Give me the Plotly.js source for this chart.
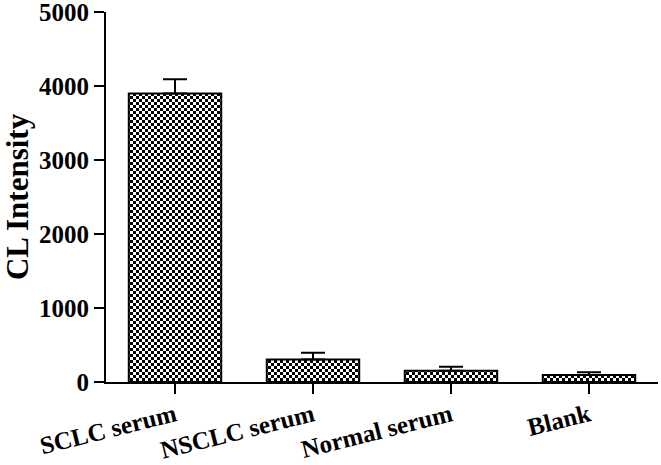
<!DOCTYPE html>
<html>
<head>
<meta charset="utf-8">
<script src="https://cdn.plot.ly/plotly-3.0.1.min.js"></script>
<style>
  html, body { margin: 0; padding: 0; background: #fff; }
  #wykres { width: 661px; height: 465px; }
</style>
</head>
<body>
<div id="wykres"></div>
<script>
// dane
const grupy = ['SCLC serum', 'NSCLC serum', 'Normal serum', 'Blank'];
const intensywnosc = [3900, 305, 152, 95];
const bledy = [190, 90, 55, 36];

const czcionka = 'Liberation Serif, Times New Roman, serif';

const trace = {
    x: grupy,
    y: intensywnosc,
    type: 'bar',
    width: 0.67,
    marker: {
        color: '#ffffff',
        line: { color: '#000000', width: 2 }
    },
    error_y: {
        type: 'data',
        array: bledy,
        symmetric: false,
        arrayminus: [0, 0, 0, 0],
        color: '#000000',
        thickness: 2,
        width: 12
    },
    hoverinfo: 'none'
};

const layout = {
    width: 661,
    height: 465,
    margin: { l: 106, r: 3, t: 12, b: 83 },
    paper_bgcolor: '#ffffff',
    plot_bgcolor: '#ffffff',
    showlegend: false,
    font: { family: czcionka, color: '#000000' },
    xaxis: {
        type: 'category',
        range: [-0.5, 3.5],
        showline: true,
        linecolor: '#000000',
        linewidth: 2,
        ticks: 'outside',
        ticklen: 10,
        tickwidth: 2,
        tickcolor: '#000000',
        tickangle: -14,
        ticklabelstandoff: -3,
        tickfont: { size: 25, family: czcionka, weight: 'bold' },
        showgrid: false,
        zeroline: false
    },
    yaxis: {
        range: [0, 5000],
        tickvals: [0, 1000, 2000, 3000, 4000, 5000],
        showline: true,
        linecolor: '#000000',
        linewidth: 2,
        ticks: 'outside',
        ticklen: 10,
        tickwidth: 2,
        tickcolor: '#000000',
        ticklabeloverflow: 'allow',
        tickfont: { size: 25, family: czcionka, weight: 'bold' },
        showgrid: false,
        zeroline: false,
        title: {
            text: 'CL Intensity',
            font: { size: 31, family: czcionka, weight: 'bold' },
            standoff: 10
        }
    }
};

// wzor szachownicy dla slupkow
const dodajSzachownice = () => {
    const ns = 'http://www.w3.org/2000/svg';
    const svg = document.querySelector('#wykres svg.main-svg');
    let defs = svg.querySelector('defs');
    if (!defs) {
        defs = document.createElementNS(ns, 'defs');
        svg.insertBefore(defs, svg.firstChild);
    }
    const wzor = document.createElementNS(ns, 'pattern');
    wzor.setAttribute('id', 'szachownica');
    wzor.setAttribute('patternUnits', 'userSpaceOnUse');
    wzor.setAttribute('width', 6);
    wzor.setAttribute('height', 6);
    const kwadraty = [[0, 0, '#ffffff', 6], [0, 0, '#000000', 3], [3, 3, '#000000', 3]];
    kwadraty.forEach(([px, py, kolor, bok]) => {
        const r = document.createElementNS(ns, 'rect');
        r.setAttribute('x', px);
        r.setAttribute('y', py);
        r.setAttribute('width', bok);
        r.setAttribute('height', bok);
        r.setAttribute('fill', kolor);
        wzor.appendChild(r);
    });
    defs.appendChild(wzor);
    document.querySelectorAll('#wykres .barlayer .point path').forEach(p => {
        p.style.fill = 'url(#szachownica)';
    });
};

Plotly.newPlot('wykres', [trace], layout, { staticPlot: true }).then(dodajSzachownice);
</script>
</body>
</html>
